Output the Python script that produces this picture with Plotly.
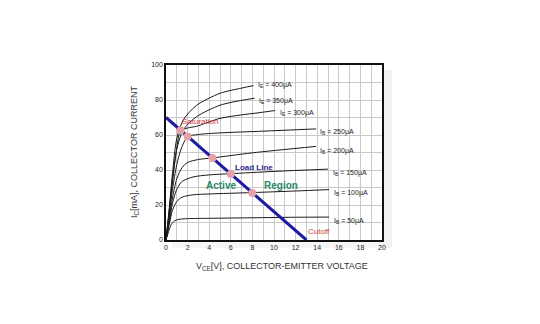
import plotly.graph_objects as go

# ---- data ----
curve_names = ["I<sub>B</sub> = 50µA", "I<sub>B</sub> = 100µA", "I<sub>B</sub> = 150µA",
               "I<sub>B</sub> = 200µA", "I<sub>B</sub> = 250µA", "I<sub>E</sub> = 300µA",
               "I<sub>E</sub> = 350µA", "I<sub>E</sub> = 400µA"]
v50 = [0, 0.25, 0.5, 0.8, 1.2, 2, 4, 8, 12, 15.1]
i50 = [0, 5, 9, 11, 11.8, 12.2, 12.4, 12.7, 13, 13.1]
v100 = [0, 0.3, 0.6, 1, 1.5, 2.5, 4, 8, 12, 15.1]
i100 = [0, 9, 17, 22, 24.5, 25.8, 26.3, 27.1, 28, 28.8]
v150 = [0, 0.3, 0.6, 1, 1.5, 2.5, 4, 6, 10, 15.0]
i150 = [0, 10, 21, 29, 33.5, 36, 37.2, 37.9, 39.2, 40.5]
v200 = [0, 0.3, 0.6, 1, 1.5, 2, 3, 4.3, 8, 13.9]
i200 = [0, 12, 24, 35, 41.5, 44.3, 46, 46.9, 49.8, 53.5]
v250 = [0, 0.3, 0.6, 1, 1.4, 2, 3, 5, 9, 13.9]
i250 = [0, 14, 29, 43, 52, 59.0, 60.3, 61.2, 62.2, 63.5]
v300 = [0, 0.3, 0.6, 0.9, 1.36, 2, 2.84, 5, 7, 8.7, 10.1]
i300 = [0, 16, 33, 48, 62.5, 64, 65, 69.5, 71.5, 72.8, 74]
v350 = [0, 0.3, 0.6, 1, 1.6, 2.84, 5, 7, 8.2]
i350 = [0, 17, 35, 52, 62.9, 70.5, 77, 79.8, 81]
v400 = [0, 0.3, 0.6, 1, 1.6, 2.84, 5, 7, 8.1]
i400 = [0, 18, 38, 58, 68.6, 77, 83.8, 86.8, 88.2]
curves_v = [v50, v100, v150, v200, v250, v300, v350, v400]
curves_i = [i50, i100, i150, i200, i250, i300, i350, i400]
label_v = [15.4, 15.4, 15.3, 14.1, 14.1, 10.4, 8.4, 8.33]
label_i = [10.9, 26.7, 38.5, 51.0, 62.0, 72.4, 79.5, 88.6]

load_v = [0, 13]
load_i = [70, 0]
q_v = [1.36, 2.0, 4.3, 6.0, 8.0]
q_i = [62.7, 59.2, 46.8, 37.7, 26.9]

x_ticks = [0, 2, 4, 6, 8, 10, 12, 14, 16, 18, 20]
y_ticks = [0, 20, 40, 60, 80, 100]

FONT = "Liberation Sans, Arial, sans-serif"

# plot area in pixels (for paper-coordinate conversion)
PL, PR, PT, PB = 166, 382, 65, 240


def px(x):
    return (x - PL) / (PR - PL)


def py(y):
    return (PB - y) / (PB - PT)


fig = go.Figure()

for v, i in zip(curves_v, curves_i):
    fig.add_trace(go.Scatter(x=v, y=i, mode="lines",
                             line=dict(color="#1a1a1a", width=1, shape="spline", smoothing=0.8),
                             hoverinfo="skip", showlegend=False))

fig.add_trace(go.Scatter(x=load_v, y=load_i, mode="lines",
                         line=dict(color="#1c1ca0", width=3), showlegend=False))
fig.add_trace(go.Scatter(x=q_v, y=q_i, mode="markers",
                         marker=dict(color="#e6a2aa", size=8, line=dict(width=0)),
                         showlegend=False))

annotations = []
for name, lx, ly in zip(curve_names, label_v, label_i):
    annotations.append(dict(x=lx, y=ly, xref="x", yref="y", text=name, showarrow=False,
                            xanchor="left", yanchor="middle",
                            font=dict(family=FONT, size=7, color="#222")))

region = [
    dict(x=1.3, y=67.6, text="Saturation", font=dict(family=FONT, size=8, color="#c83c3c")),
    dict(x=6.2, y=41.5, text="<b>Load Line</b>", font=dict(family=FONT, size=8, color="#2a2a90")),
    dict(x=3.5, y=30.9, text="<b>Active</b>", font=dict(family=FONT, size=10, color="#2a8a66")),
    dict(x=8.9, y=31.4, text="<b>Region</b>", font=dict(family=FONT, size=10, color="#2a8a66")),
    dict(x=13.0, y=4.8, text="Cutoff", font=dict(family=FONT, size=8, color="#c83c3c")),
]
for a in region:
    a.update(xref="x", yref="y", showarrow=False, xanchor="left", yanchor="middle")
annotations += region

annotations.append(dict(x=px(134), y=py(152), xref="paper", yref="paper",
                        text="I<sub>C</sub>[mA], COLLECTOR CURRENT", textangle=-90,
                        showarrow=False, xanchor="center", yanchor="middle",
                        font=dict(family=FONT, size=9, color="#333")))
annotations.append(dict(x=px(282), y=py(266), xref="paper", yref="paper",
                        text="V<sub>CE</sub>[V], COLLECTOR-EMITTER VOLTAGE",
                        showarrow=False, xanchor="center", yanchor="middle",
                        font=dict(family=FONT, size=9, color="#333")))

shapes = [
    dict(type="rect", xref="paper", yref="paper", layer="below",
         x0=px(383), x1=px(392), y0=py(248), y1=py(70),
         fillcolor="rgba(0,0,0,0.05)", line=dict(width=0)),
    dict(type="rect", xref="paper", yref="paper", layer="below",
         x0=px(172), x1=px(383), y0=py(248), y1=py(241),
         fillcolor="rgba(0,0,0,0.04)", line=dict(width=0)),
]

fig.update_layout(
    width=540, height=324,
    margin=dict(l=PL, r=540 - PR, t=PT, b=324 - PB),
    paper_bgcolor="white", plot_bgcolor="white",
    annotations=annotations, shapes=shapes,
    xaxis=dict(range=[0, 20], tickvals=x_ticks, ticktext=[str(t) for t in x_ticks],
               showgrid=True, gridcolor="#c9c9c9", gridwidth=1,
               minor=dict(dtick=1, showgrid=True, gridcolor="#c9c9c9", gridwidth=1),
               showline=True, linecolor="#111", linewidth=1.5, mirror=True,
               ticks="", zeroline=False,
               tickfont=dict(family=FONT, size=7, color="#222")),
    yaxis=dict(range=[0, 100], tickvals=y_ticks, ticktext=[str(t) for t in y_ticks],
               showgrid=True, gridcolor="#c9c9c9", gridwidth=1,
               minor=dict(dtick=10, showgrid=True, gridcolor="#c9c9c9", gridwidth=1),
               showline=True, linecolor="#111", linewidth=1.5, mirror=True,
               ticks="", zeroline=False,
               tickfont=dict(family=FONT, size=7, color="#222")),
)

fig.write_html("out.html")
